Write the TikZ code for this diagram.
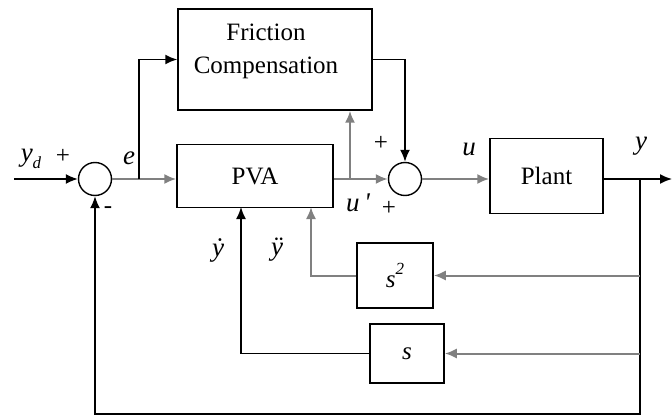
\documentclass[tikz,border=0pt]{standalone}
\usepackage{fontspec}
\setmainfont{Liberation Serif}
\usetikzlibrary{arrows.meta,calc}
\begin{document}
\begin{tikzpicture}[x=1pt,y=-1pt,
  every node/.style={font=\fontsize{25}{28}\selectfont},
  blk/.style={draw,line width=1.5pt,inner sep=0pt},
  sumj/.style={draw,circle,line width=1.4pt,minimum size=33pt,inner sep=0pt},
  ln/.style={line width=1.6pt},
  gln/.style={line width=2pt,draw=black!50},
  arr/.style={-{Latex[length=12pt,width=10pt]}},
  lab/.style={inner sep=0pt,font=\fontsize{27}{28}\selectfont\itshape},
  sgn/.style={inner sep=0pt,font=\fontsize{25}{26}\selectfont}]
\useasboundingbox (0,0) rectangle (672,417);
% blocks
\node[sumj] (j1) at (95,179) {};
\node[sumj] (j2) at (405,179) {};
\node[blk,minimum width=194pt,minimum height=101pt] (fc) at (275,59.5) {};
\node[align=center,inner sep=0pt] (fct) at (266,51) {Friction\\[5pt]Compensation};
\node[blk,minimum width=156pt,minimum height=63pt] (pva) at (255,176) {PVA};
\node[blk,minimum width=113pt,minimum height=75pt] (plant) at (546.5,176) {Plant};
\node[blk,minimum width=76pt,minimum height=65pt] (s2) at (395,275.5) {\itshape s\raisebox{0.5em}{\fontsize{17}{18}\selectfont 2}};
\node[blk,minimum width=74pt,minimum height=59pt] (s) at (407,353.5) {\itshape s};
% coordinates
\coordinate (in) at (14,179);
\coordinate (eb) at (139,179);
\coordinate (pb) at (350,179);
\coordinate (yb) at (640,179);
\coordinate (out) at (672,179);
\coordinate (bot) at (95,414);
\coordinate (ddx) at (311,207);
\coordinate (dx) at (241,207);
% connectors
\draw[ln,arr] (in) -- (j1.west);
\draw[gln,arr] (j1.east) -- (pva.west|-j1.east);
\draw[ln,arr] (eb) |- (fc.west);
\draw[gln,arr] (pva.east|-j2.west) -- (j2.west);
\draw[gln,arr] (pb) -- (pb|-fc.south);
\draw[ln,arr] (fc.east) -| (j2.north);
\draw[gln,arr] (j2.east) -- (plant.west|-j2.east);
\draw[ln,arr] (plant.east|-yb) -- (out);
\draw[ln,arr] (yb) |- (bot) -- (j1.south);
\draw[gln,arr] (yb|-s2.east) -- (s2.east);
\draw[gln,arr] (yb|-s.east) -- (s.east);
\draw[gln,arr] (s2.west) -| (ddx);
\draw[ln,arr] (s.west) -| (dx);
% labels
\node[lab] (lyd) at (31,159) {y\raisebox{-0.25em}{\fontsize{17}{18}\selectfont d}};
\node[sgn] (p1) at (63,156) {+};
\node[sgn] (m1) at (108,210) {-};
\node[lab] (le) at (129,158) {e};
\node[sgn] (p2) at (381,143) {+};
\node[lab] (lup) at (358,203) {u\,\textquotesingle};
\node[sgn] (p3) at (389,208) {+};
\node[lab] (lu) at (469,149) {u};
\node[lab] (ly) at (641,146) {y};
\node[lab] (lyd1) at (218,250) {\.{y}};
\node[lab] (lyd2) at (277,250) {\"{y}};
\end{tikzpicture}
\end{document}
